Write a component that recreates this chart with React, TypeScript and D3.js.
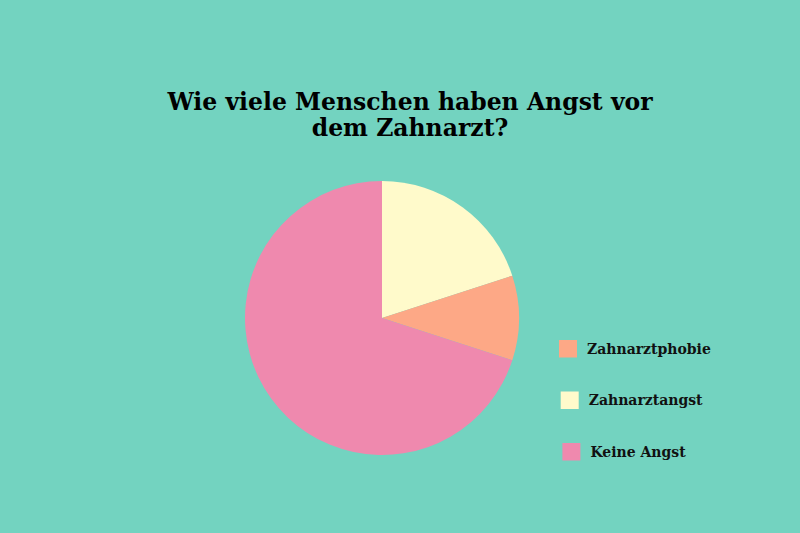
import React from "react";
import * as d3 from "d3";

const categories = ["Zahnarztangst", "Zahnarztphobie", "Keine Angst"];
const values = [20, 10, 70];
const colors = ["#fffacb", "#fda886", "#ef89ae"];
const legendOrder = ["Zahnarztphobie", "Zahnarztangst", "Keine Angst"];
const titleLines = ["Wie viele Menschen haben Angst vor", "dem Zahnarzt?"];

const W = 800;
const H = 533;

export default function App() {
  const cx = 382;
  const cy = 318;
  const r = 137;
  const pie = d3.pie<number>().sort(null).value((d) => d)(values);
  const arc = d3.arc<d3.PieArcDatum<number>>().innerRadius(0).outerRadius(r);
  const font = "'DejaVu Serif', Georgia, serif";
  return (
    <svg
      width={W}
      height={H}
      style={{ position: "absolute", left: 0, top: 0, display: "block" }}
    >
      <rect x={0} y={0} width={W} height={H} fill="#73d3c0" />
      {titleLines.map((t, i) => (
        <text
          key={t}
          x={410}
          y={109.5 + i * 26}
          textAnchor="middle"
          fontFamily={font}
          fontWeight="bold"
          fontSize={23.5}
          fill="#000"
        >
          {t}
        </text>
      ))}
      <g transform={`translate(${cx},${cy})`}>
        {pie.map((p, i) => (
          <path key={categories[i]} d={arc(p) || ""} fill={colors[i]} />
        ))}
      </g>
      {legendOrder.map((name, i) => {
        const idx = categories.indexOf(name);
        const y = 340 + i * 51.5;
        const x = 559 + i * 1.7;
        return (
          <g key={name}>
            <rect x={x} y={y} width={18} height={17.5} fill={colors[idx]} />
            <text
              x={x + 28}
              y={y + 13.5}
              fontFamily={font}
              fontWeight="bold"
              fontSize={14}
              fill="#111"
            >
              {name}
            </text>
          </g>
        );
      })}
    </svg>
  );
}
